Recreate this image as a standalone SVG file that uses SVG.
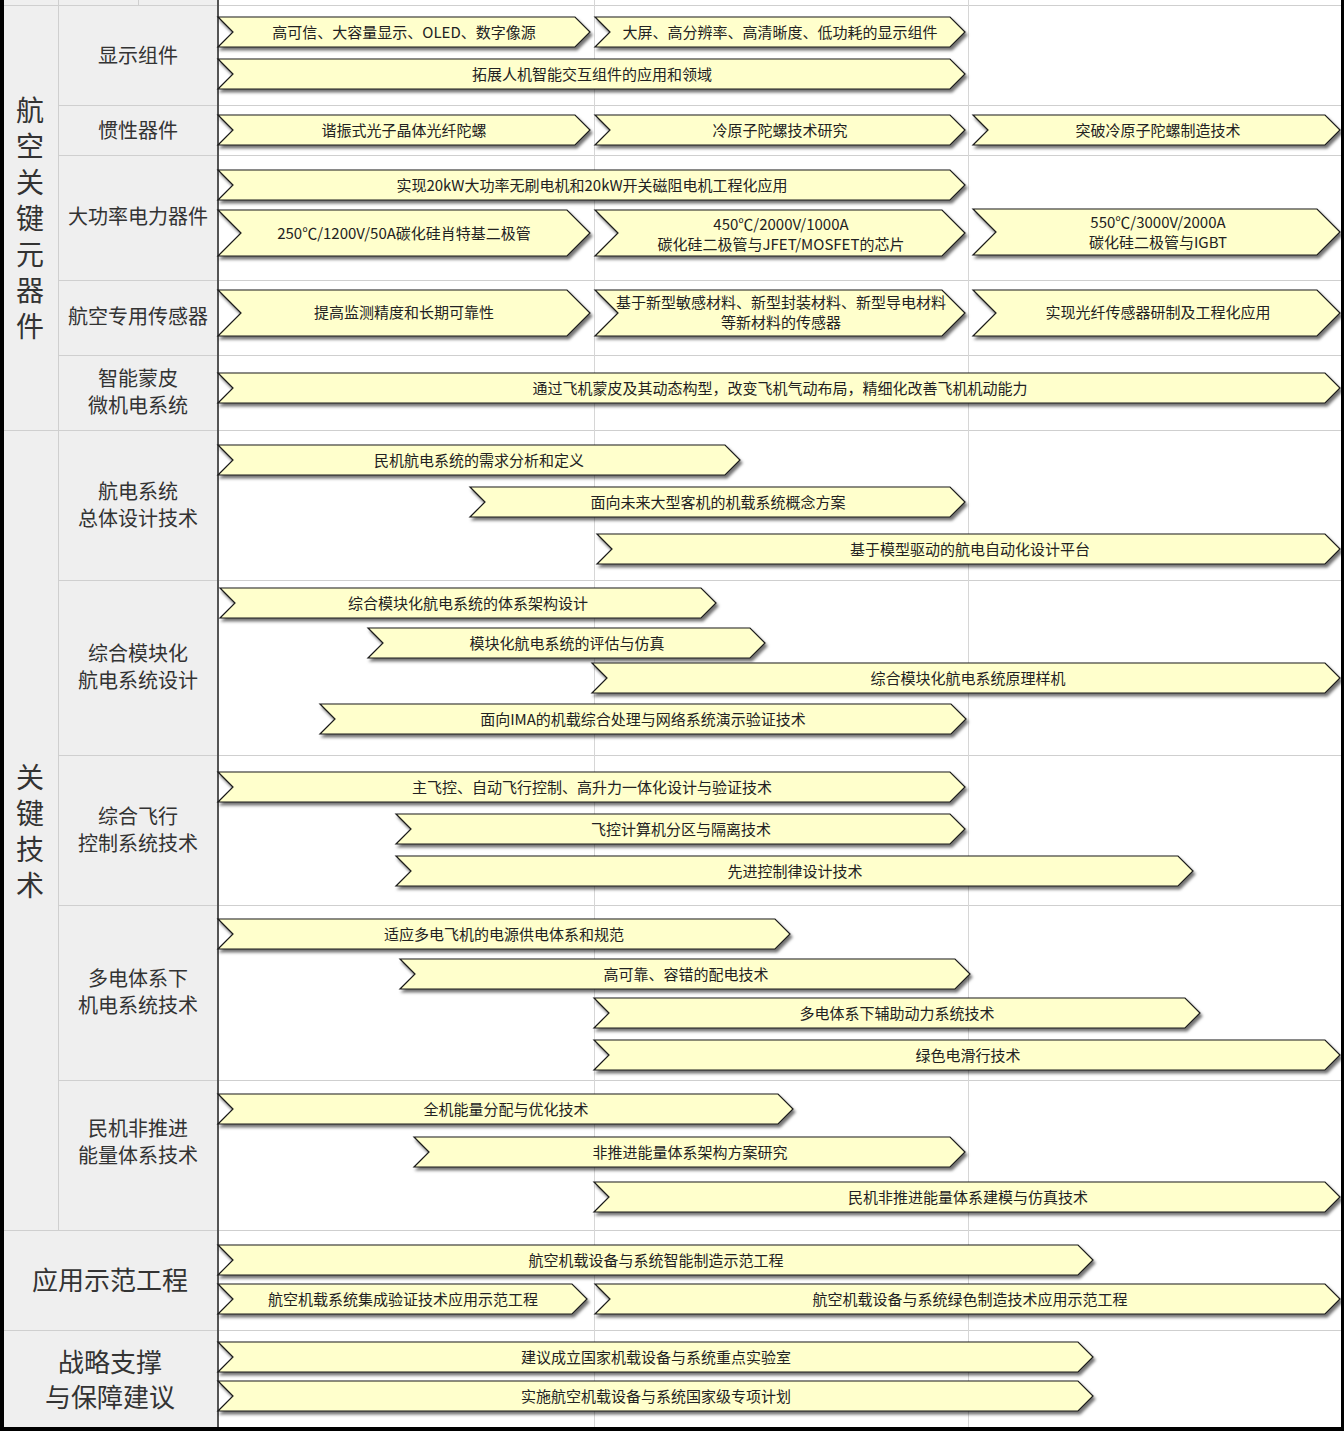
<svg xmlns="http://www.w3.org/2000/svg" width="1344" height="1431" viewBox="0 0 1344 1431">
<style>
.bg{fill:#ffffff}
.side{fill:#efefef}
.grid{stroke:#d6d6d6;stroke-width:1;fill:none}
.gridd{stroke:#cfcfcf;stroke-width:1;fill:none}
.bar{fill:#ffffcc;stroke:#1a1a1a;stroke-width:1.2;filter:url(#sh)}
.bt{font-family:"Noto Sans CJK SC","Microsoft YaHei",sans-serif;font-size:15px;fill:#222;text-anchor:middle}
.lb{font-family:"Noto Sans CJK SC",sans-serif;font-size:20px;fill:#333;text-anchor:middle}
.lb1{font-family:"Noto Sans CJK SC",sans-serif;font-size:28px;fill:#333;writing-mode:vertical-rl;letter-spacing:8px}
.lb2{font-family:"Noto Sans CJK SC",sans-serif;font-size:26px;fill:#333;text-anchor:middle}
</style>
<defs>
<filter id="sh" x="-5%" y="-30%" width="110%" height="170%">
<feDropShadow dx="2" dy="3" stdDeviation="1.5" flood-color="#000" flood-opacity="0.55"/>
</filter>
</defs>
<g id="background">
<rect class="bg" x="0" y="0" width="1344" height="1431"/>
<rect class="side" x="4" y="0" width="214" height="1428"/>
<path class="gridd" d="M4 5.5H1341 M4 430.5H1341 M4 1230.5H1341 M4 1330.5H1341"/>
<path class="gridd" d="M58 105.5H1341 M58 155.5H1341 M58 280.5H1341 M58 355.5H1341 M58 580.5H1341 M58 755.5H1341 M58 905.5H1341 M58 1080.5H1341"/>
<path class="gridd" d="M58.5 0V1230 M138.5 0V5"/>
<path class="grid" d="M594.5 0V1428 M968.5 0V1428"/>
<rect x="217" y="0" width="2" height="1428" fill="#555"/>
<rect x="0" y="0" width="4" height="1431" fill="#000"/>
<rect x="1341" y="0" width="3" height="1431" fill="#000"/>
<rect x="0" y="1427" width="1344" height="4" fill="#000"/>
</g>
<g id="labels">
<g id="sec1"><text class="lb1" x="30" y="96">航空关键元器件</text></g>
<g id="sec2"><text class="lb1" x="30" y="763">关键技术</text></g>
<g id="l-display"><text class="lb" x="138" y="62.5">显示组件</text></g>
<g id="l-inertial"><text class="lb" x="138" y="137.5">惯性器件</text></g>
<g id="l-power"><text class="lb" x="138" y="223.5">大功率电力器件</text></g>
<g id="l-sensor"><text class="lb" x="138" y="323.5">航空专用传感器</text></g>
<g id="l-skin"><text class="lb" x="138" y="385.5">智能蒙皮</text><text class="lb" x="138" y="412.5">微机电系统</text></g>
<g id="l-avionics"><text class="lb" x="138" y="498.5">航电系统</text><text class="lb" x="138" y="525.5">总体设计技术</text></g>
<g id="l-ima"><text class="lb" x="138" y="660.5">综合模块化</text><text class="lb" x="138" y="687.5">航电系统设计</text></g>
<g id="l-fcs"><text class="lb" x="138" y="823.5">综合飞行</text><text class="lb" x="138" y="850.5">控制系统技术</text></g>
<g id="l-mea"><text class="lb" x="138" y="985.5">多电体系下</text><text class="lb" x="138" y="1012.5">机电系统技术</text></g>
<g id="l-energy"><text class="lb" x="138" y="1135.5">民机非推进</text><text class="lb" x="138" y="1162.5">能量体系技术</text></g>
<g id="l-demo"><text class="lb2" x="110" y="1290">应用示范工程</text></g>
<g id="l-strategy"><text class="lb2" x="110" y="1372">战略支撑</text><text class="lb2" x="110" y="1407">与保障建议</text></g>
</g>
<g id="connectors"></g>
<g id="bars">
<g id="b1"><path class="bar" d="M218 17H575L590 32L575 47H218L233 32Z"/><text class="bt" x="404" y="37.5">高可信、大容量显示、OLED、数字像源</text></g>
<g id="b2"><path class="bar" d="M595 17H950L965 32L950 47H595L610 32Z"/><text class="bt" x="780" y="37.5">大屏、高分辨率、高清晰度、低功耗的显示组件</text></g>
<g id="b3"><path class="bar" d="M218 59H950L965 74L950 89H218L233 74Z"/><text class="bt" x="592" y="79.5">拓展人机智能交互组件的应用和领域</text></g>
<g id="b4"><path class="bar" d="M218 115H575L590 130L575 145H218L233 130Z"/><text class="bt" x="404" y="135.5">谐振式光子晶体光纤陀螺</text></g>
<g id="b5"><path class="bar" d="M595 115H950L965 130L950 145H595L610 130Z"/><text class="bt" x="780" y="135.5">冷原子陀螺技术研究</text></g>
<g id="b6"><path class="bar" d="M973 115H1325L1340 130L1325 145H973L988 130Z"/><text class="bt" x="1158" y="135.5">突破冷原子陀螺制造技术</text></g>
<g id="b7"><path class="bar" d="M218 170H950L965 185L950 200H218L233 185Z"/><text class="bt" x="592" y="190.5">实现20kW大功率无刷电机和20kW开关磁阻电机工程化应用</text></g>
<g id="b8"><path class="bar" d="M218 210H567L590 233L567 256H218L241 233Z"/><text class="bt" x="404" y="238.5">250℃/1200V/50A碳化硅肖特基二极管</text></g>
<g id="b9"><path class="bar" d="M595 210H942L965 233L942 256H595L618 233Z"/><text class="bt" x="781" y="229.5">450℃/2000V/1000A</text><text class="bt" x="781" y="249.5">碳化硅二极管与JFET/MOSFET的芯片</text></g>
<g id="b10"><path class="bar" d="M973 209H1317L1340 232L1317 255H973L996 232Z"/><text class="bt" x="1158" y="227.5">550℃/3000V/2000A</text><text class="bt" x="1158" y="247.5">碳化硅二极管与IGBT</text></g>
<g id="b11"><path class="bar" d="M218 290H567L590 313L567 336H218L241 313Z"/><text class="bt" x="404" y="317.5">提高监测精度和长期可靠性</text></g>
<g id="b12"><path class="bar" d="M595 290H942L965 313L942 336H595L618 313Z"/><text class="bt" x="781" y="307.5">基于新型敏感材料、新型封装材料、新型导电材料</text><text class="bt" x="781" y="327.5">等新材料的传感器</text></g>
<g id="b13"><path class="bar" d="M973 290H1317L1340 313L1317 336H973L996 313Z"/><text class="bt" x="1158" y="317.5">实现光纤传感器研制及工程化应用</text></g>
<g id="b14"><path class="bar" d="M218 373H1325L1340 388L1325 403H218L233 388Z"/><text class="bt" x="780" y="393.5">通过飞机蒙皮及其动态构型，改变飞机气动布局，精细化改善飞机机动能力</text></g>
<g id="b15"><path class="bar" d="M218 445H725L740 460L725 475H218L233 460Z"/><text class="bt" x="479" y="465.5">民机航电系统的需求分析和定义</text></g>
<g id="b16"><path class="bar" d="M470 487H950L965 502L950 517H470L485 502Z"/><text class="bt" x="718" y="507.5">面向未来大型客机的机载系统概念方案</text></g>
<g id="b17"><path class="bar" d="M597 534H1325L1340 549L1325 564H597L612 549Z"/><text class="bt" x="970" y="554.5">基于模型驱动的航电自动化设计平台</text></g>
<g id="b18"><path class="bar" d="M220 588H701L716 603L701 618H220L235 603Z"/><text class="bt" x="468" y="608.5">综合模块化航电系统的体系架构设计</text></g>
<g id="b19"><path class="bar" d="M368 628H750L765 643L750 658H368L383 643Z"/><text class="bt" x="567" y="648.5">模块化航电系统的评估与仿真</text></g>
<g id="b20"><path class="bar" d="M592 663H1325L1340 678L1325 693H592L607 678Z"/><text class="bt" x="968" y="683.5">综合模块化航电系统原理样机</text></g>
<g id="b21"><path class="bar" d="M320 704H951L966 719L951 734H320L335 719Z"/><text class="bt" x="643" y="724.5">面向IMA的机载综合处理与网络系统演示验证技术</text></g>
<g id="b22"><path class="bar" d="M218 772H950L965 787L950 802H218L233 787Z"/><text class="bt" x="592" y="792.5">主飞控、自动飞行控制、高升力一体化设计与验证技术</text></g>
<g id="b23"><path class="bar" d="M396 814H950L965 829L950 844H396L411 829Z"/><text class="bt" x="681" y="834.5">飞控计算机分区与隔离技术</text></g>
<g id="b24"><path class="bar" d="M396 856H1178L1193 871L1178 886H396L411 871Z"/><text class="bt" x="795" y="876.5">先进控制律设计技术</text></g>
<g id="b25"><path class="bar" d="M218 919H775L790 934L775 949H218L233 934Z"/><text class="bt" x="504" y="939.5">适应多电飞机的电源供电体系和规范</text></g>
<g id="b26"><path class="bar" d="M400 959H955L970 974L955 989H400L415 974Z"/><text class="bt" x="686" y="979.5">高可靠、容错的配电技术</text></g>
<g id="b27"><path class="bar" d="M594 998H1185L1200 1013L1185 1028H594L609 1013Z"/><text class="bt" x="897" y="1018.5">多电体系下辅助动力系统技术</text></g>
<g id="b28"><path class="bar" d="M594 1040H1325L1340 1055L1325 1070H594L609 1055Z"/><text class="bt" x="968" y="1060.5">绿色电滑行技术</text></g>
<g id="b29"><path class="bar" d="M218 1094H778L793 1109L778 1124H218L233 1109Z"/><text class="bt" x="506" y="1114.5">全机能量分配与优化技术</text></g>
<g id="b30"><path class="bar" d="M414 1137H950L965 1152L950 1167H414L429 1152Z"/><text class="bt" x="690" y="1157.5">非推进能量体系架构方案研究</text></g>
<g id="b31"><path class="bar" d="M594 1182H1325L1340 1197L1325 1212H594L609 1197Z"/><text class="bt" x="968" y="1202.5">民机非推进能量体系建模与仿真技术</text></g>
<g id="b32"><path class="bar" d="M218 1245H1078L1093 1260L1078 1275H218L233 1260Z"/><text class="bt" x="656" y="1265.5">航空机载设备与系统智能制造示范工程</text></g>
<g id="b33"><path class="bar" d="M218 1284H572L587 1299L572 1314H218L233 1299Z"/><text class="bt" x="403" y="1304.5">航空机载系统集成验证技术应用示范工程</text></g>
<g id="b34"><path class="bar" d="M595 1284H1325L1340 1299L1325 1314H595L610 1299Z"/><text class="bt" x="970" y="1304.5">航空机载设备与系统绿色制造技术应用示范工程</text></g>
<g id="b35"><path class="bar" d="M218 1342H1078L1093 1357L1078 1372H218L233 1357Z"/><text class="bt" x="656" y="1362.5">建议成立国家机载设备与系统重点实验室</text></g>
<g id="b36"><path class="bar" d="M218 1381H1078L1093 1396L1078 1411H218L233 1396Z"/><text class="bt" x="656" y="1401.5">实施航空机载设备与系统国家级专项计划</text></g>
</g>
</svg>
